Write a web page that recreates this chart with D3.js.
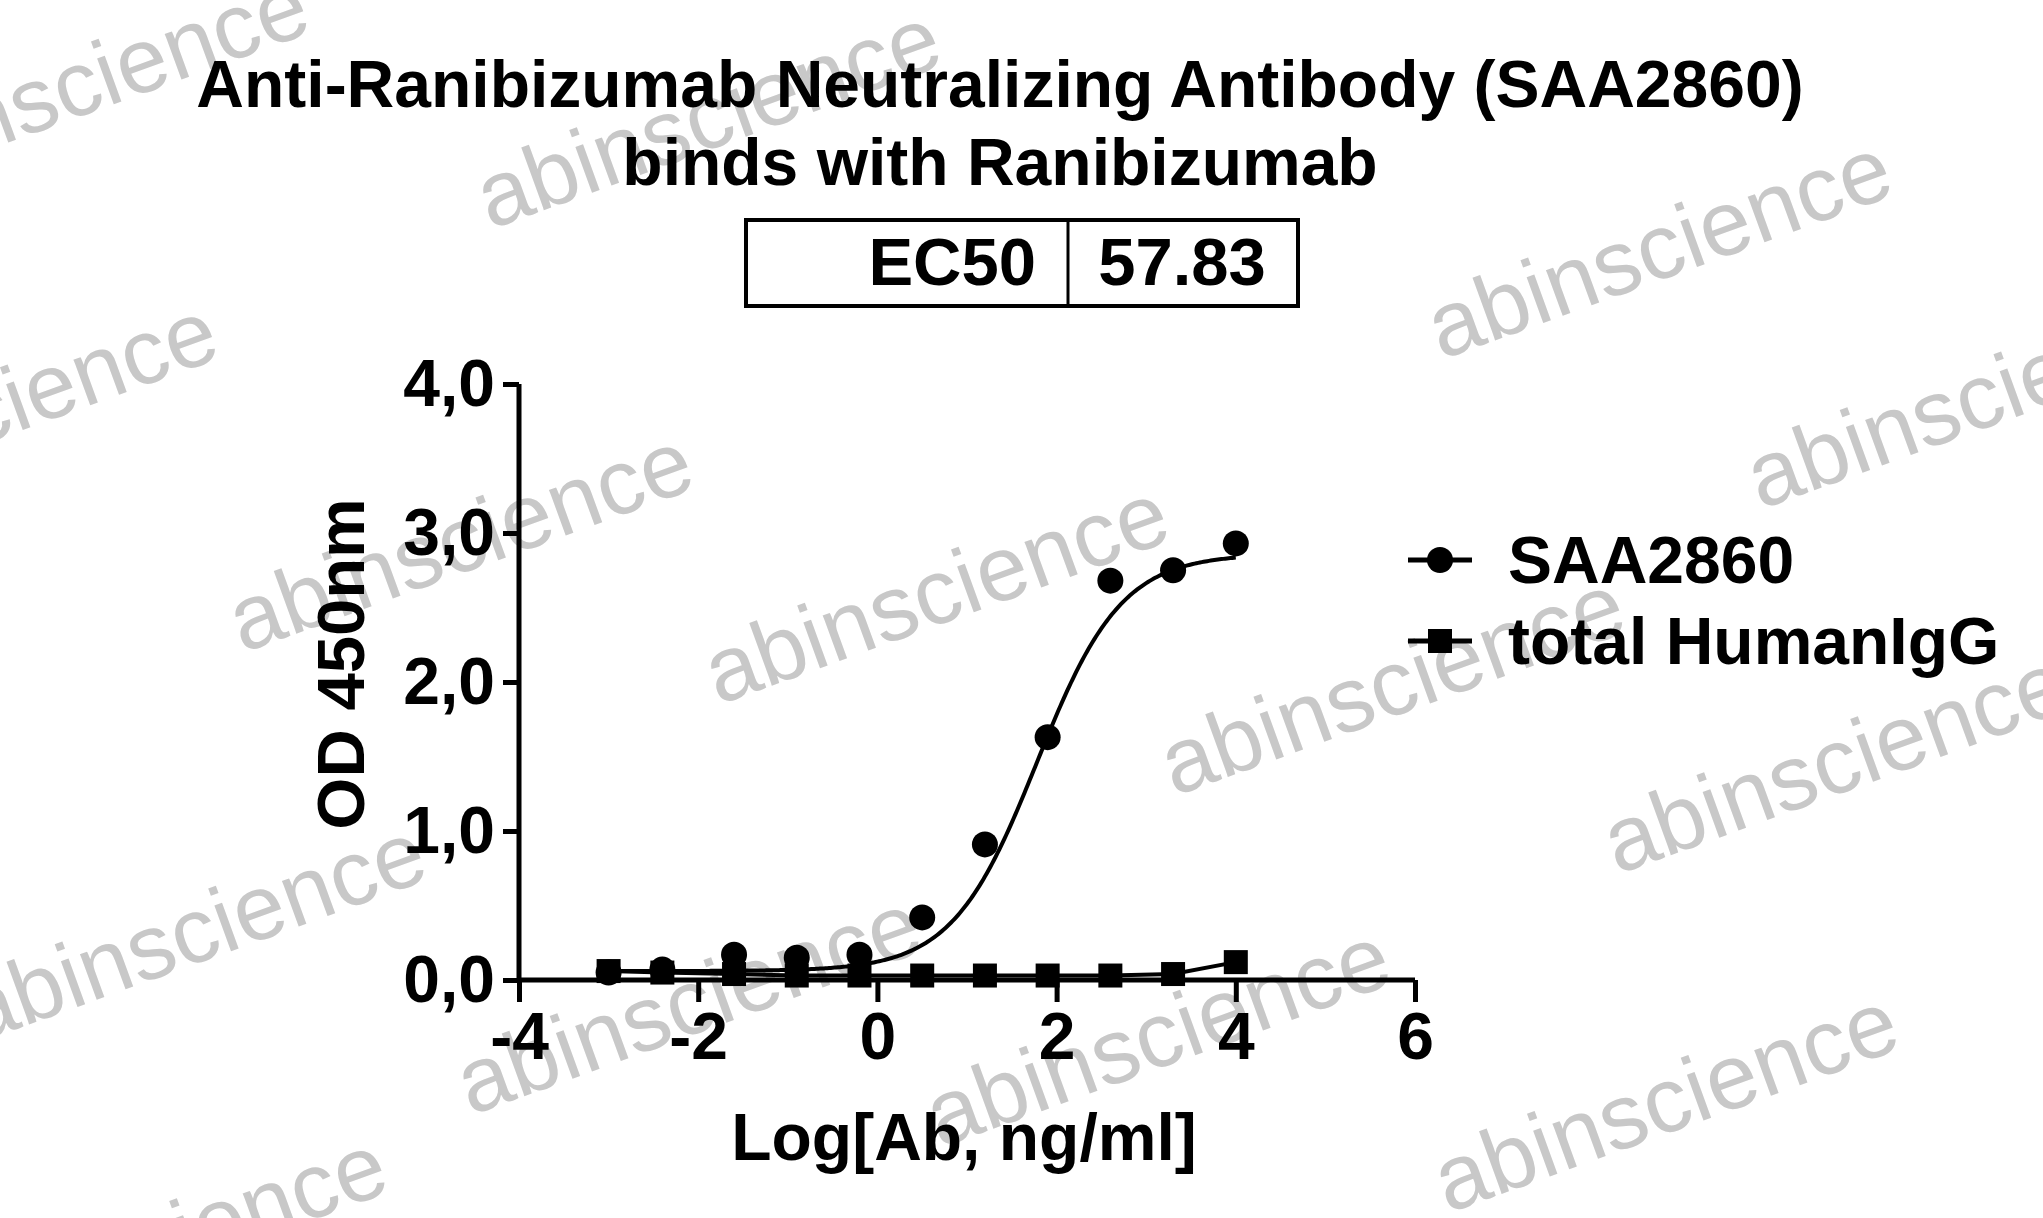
<!DOCTYPE html>
<html><head><meta charset="utf-8">
<script src="https://cdn.jsdelivr.net/npm/d3@7/dist/d3.min.js"></script>
<style>body{margin:0;background:#fff}svg{display:block}</style></head>
<body><svg id="c" width="2043" height="1218"></svg>
<script>
const logConc = [-3.0, -2.4, -1.6, -0.9, -0.2, 0.5, 1.2, 1.9, 2.6, 3.3, 4.0];
const saa2860 = [0.05, 0.07, 0.17, 0.15, 0.17, 0.42, 0.91, 1.63, 2.68, 2.75, 2.93];
const humanIgG = [0.06, 0.05, 0.04, 0.03, 0.03, 0.03, 0.03, 0.03, 0.03, 0.04, 0.12];
const fitBottom = 0.06, fitTop = 2.86, fitLogEC50 = 1.78, fitHill = 0.92;
const xTicks = [-4, -2, 0, 2, 4, 6];
const yTicks = [0, 1, 2, 3, 4];
const titleLines = ["Anti-Ranibizumab Neutralizing Antibody (SAA2860)", "binds with Ranibizumab"];
const ec50Label = "EC50", ec50Value = "57.83";
const legendNames = ["SAA2860", "total HumanIgG"];
const watermarkPos = [[60,70],[545,95],[1275,195],[-10,320],[355,420],[720,460],[1520,310],[1070,530],[1410,590],[150,720],[530,775],[890,800],[1280,850],[120,960]];

const svg = d3.select("#c");
const F = "'Liberation Sans', Arial, sans-serif";
const x = d3.scaleLinear().domain([-4, 6]).range([519, 1415]);
const y = d3.scaleLinear().domain([0, 4]).range([980, 384]);

const s = 1.303;
svg.append("g").selectAll("text").data(watermarkPos).join("text")
  .attr("transform", d => `translate(${d[0]*s},${d[1]*s}) rotate(-20)`)
  .attr("text-anchor", "middle").attr("dominant-baseline", "middle")
  .attr("font-family", F).attr("font-size", 92).attr("fill", "#c8c8c8")
  .text("abinscience");

svg.append("g").selectAll("text").data(titleLines).join("text")
  .attr("x", 1000).attr("y", (d, i) => 107 + i * 78)
  .attr("text-anchor", "middle").attr("font-family", F).attr("font-weight", "bold")
  .attr("font-size", 66).text(d => d);

const bx = svg.append("g");
bx.append("rect").attr("x", 746).attr("y", 220).attr("width", 552).attr("height", 86)
  .attr("fill", "none").attr("stroke", "#000").attr("stroke-width", 4);
bx.append("line").attr("x1", 1068).attr("x2", 1068).attr("y1", 220).attr("y2", 306).attr("stroke", "#000").attr("stroke-width", 3);
bx.append("text").attr("x", 1036).attr("y", 285).attr("text-anchor", "end").attr("font-family", F).attr("font-weight", "bold").attr("font-size", 67).text(ec50Label);
bx.append("text").attr("x", 1182).attr("y", 285).attr("text-anchor", "middle").attr("font-family", F).attr("font-weight", "bold").attr("font-size", 67).text(ec50Value);

const fmt = d => d3.format(".1f")(d).replace(".", ",");
const gy = svg.append("g").attr("transform", "translate(519,0)")
  .call(d3.axisLeft(y).tickValues(yTicks).tickFormat(fmt).tickSize(16).tickPadding(8));
const gx = svg.append("g").attr("transform", "translate(0,980)")
  .call(d3.axisBottom(x).tickValues(xTicks).tickFormat(d => d).tickSize(22).tickPadding(10));
[gx, gy].forEach(g => {
  g.selectAll("path,line").attr("stroke", "#000").attr("stroke-width", 5);
  g.selectAll("text").attr("font-family", F).attr("font-weight", "bold").attr("font-size", 66).attr("fill", "#000");
});
gy.select(".domain").attr("d", "M0,384V980");
gx.select(".domain").attr("d", "M519,0H1415");

svg.append("text").attr("x", 964).attr("y", 1160).attr("text-anchor", "middle").attr("font-family", F)
  .attr("font-weight", "bold").attr("font-size", 66).text("Log[Ab, ng/ml]");
svg.append("text").attr("transform", "translate(364,664) rotate(-90)").attr("text-anchor", "middle")
  .attr("font-family", F).attr("font-weight", "bold").attr("font-size", 67).text("OD 450nm");

const fx = d3.range(-3, 4.001, 0.02);
const curve = fx.map(v => [v, fitBottom + (fitTop - fitBottom) / (1 + Math.pow(10, (fitLogEC50 - v) * fitHill))]);
const line = d3.line().x(d => x(d[0])).y(d => y(d[1]));
svg.append("path").attr("d", line(curve)).attr("fill", "none").attr("stroke", "#000").attr("stroke-width", 4);
svg.append("path").attr("d", line(logConc.map((v, i) => [v, humanIgG[i]]))).attr("fill", "none").attr("stroke", "#000").attr("stroke-width", 4);

svg.append("g").selectAll("circle").data(logConc).join("circle")
  .attr("cx", d => x(d)).attr("cy", (d, i) => y(saa2860[i])).attr("r", 13).attr("fill", "#000");
svg.append("g").selectAll("rect").data(logConc).join("rect")
  .attr("x", d => x(d) - 12).attr("y", (d, i) => y(humanIgG[i]) - 12).attr("width", 24).attr("height", 24).attr("fill", "#000");

const lg = svg.append("g");
[560, 641].forEach((ly, i) => {
  lg.append("line").attr("x1", 1408).attr("x2", 1472).attr("y1", ly).attr("y2", ly).attr("stroke", "#000").attr("stroke-width", 5);
  if (i === 0) lg.append("circle").attr("cx", 1440).attr("cy", ly).attr("r", 13);
  else lg.append("rect").attr("x", 1428).attr("y", ly - 12).attr("width", 24).attr("height", 24);
  lg.append("text").attr("x", 1508).attr("y", ly + 23).attr("font-family", F).attr("font-weight", "bold").attr("font-size", 66).text(legendNames[i]);
});
</script></body></html>
